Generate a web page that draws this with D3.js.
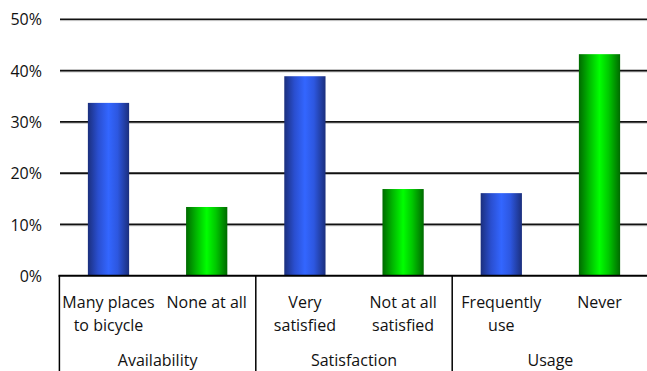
<!DOCTYPE html>
<html>
<head>
<meta charset="utf-8">
<script src="https://cdn.jsdelivr.net/npm/d3@7"></script>
<style>
  html, body { margin: 0; padding: 0; background: #fff; }
  svg { display: block; }
  text { font-family: "Open Sans", "Liberation Sans", sans-serif; fill: #111; }
</style>
</head>
<body>
<svg id="chart" width="647" height="371"></svg>
<script>
// Survey shares (percent of respondents)
const categories = [
  ["Many places", "to bicycle"],
  ["None at all"],
  ["Very", "satisfied"],
  ["Not at all", "satisfied"],
  ["Frequently", "use"],
  ["Never"]
];
const values = [33.7, 13.4, 38.9, 16.9, 16.1, 43.2];
const series = ["pos", "neg", "pos", "neg", "pos", "neg"];
const groups = ["Availability", "Satisfaction", "Usage"];
const groupSize = [2, 2, 2];
const yTicks = [0, 10, 20, 30, 40, 50];

const svg = d3.select("#chart");
const plotLeft = 59.4, plotRight = 648.6, plotTop = 19.3, plotBase = 275.7;
const fontSize = 16;

const x = d3.scaleBand()
  .domain(d3.range(categories.length))
  .range([plotLeft, plotRight])
  .paddingInner(0.58)
  .paddingOuter(0.29);

const y = d3.scaleLinear().domain([0, 50]).range([plotBase, plotTop]);

// Horizontal gradients giving the bars a cylindrical look
const defs = svg.append("defs");
const grads = {
  pos: ["#1b2f7d", "#2a4fd0", "#3366ff", "#2d57e0", "#1b2f7d"],
  neg: ["#006a00", "#00b800", "#00ff00", "#00c800", "#006a00"]
};
Object.entries(grads).forEach(([k, stops]) => {
  const g = defs.append("linearGradient").attr("id", "g-" + k)
    .attr("x1", "0%").attr("x2", "100%").attr("y1", "0%").attr("y2", "0%");
  const offs = [0, 0.25, 0.5, 0.72, 1];
  stops.forEach((c, i) => g.append("stop").attr("offset", offs[i]).attr("stop-color", c));
});

// Gridlines with a soft shadow line below
const grid = svg.append("g");
yTicks.filter(t => t > 0).forEach(t => {
  grid.append("line")
    .attr("x1", plotLeft + 0.6).attr("x2", 647)
    .attr("y1", y(t) + 1.3).attr("y2", y(t) + 1.3)
    .attr("stroke", "#bbb").attr("stroke-width", 1);
  grid.append("line")
    .attr("x1", plotLeft + 0.6).attr("x2", 647)
    .attr("y1", y(t)).attr("y2", y(t))
    .attr("stroke", "#111").attr("stroke-width", 1.6);
});

// Y axis labels
const yAxis = d3.axisLeft(y).tickValues(yTicks).tickFormat(d => d + "%").tickSize(0).tickPadding(0);
const ya = svg.append("g").attr("transform", "translate(42,0)").call(yAxis);
ya.select(".domain").remove();
ya.selectAll("text").attr("font-size", fontSize).attr("dy", "0.35em")
  .style("font-family", "'Open Sans', 'Liberation Sans', sans-serif").attr("fill", "#111");

// Bars
svg.append("g").selectAll("rect")
  .data(values)
  .join("rect")
  .attr("x", (d, i) => x(i))
  .attr("width", x.bandwidth())
  .attr("y", d => y(d))
  .attr("height", d => y(0) - y(d))
  .attr("fill", (d, i) => `url(#g-${series[i]})`);

// Baseline
svg.append("line")
  .attr("x1", plotLeft - 1).attr("x2", 647)
  .attr("y1", plotBase).attr("y2", plotBase)
  .attr("stroke", "#000").attr("stroke-width", 2);

// Category labels
const step = x.step();
const catG = svg.append("g").attr("font-size", fontSize).attr("text-anchor", "middle");
categories.forEach((lines, i) => {
  const cx = x(i) + x.bandwidth() / 2;
  lines.forEach((ln, j) => {
    catG.append("text").attr("x", cx).attr("y", 308 + j * 23).text(ln);
  });
});

// Group separators and group labels
let start = 0;
const sep = svg.append("g");
groups.forEach((gname, gi) => {
  const x0 = plotLeft + start * step;
  const x1 = plotLeft + (start + groupSize[gi]) * step;
  sep.append("line")
    .attr("x1", x0).attr("x2", x0).attr("y1", plotBase).attr("y2", 371)
    .attr("stroke", "#000").attr("stroke-width", 1.5);
  svg.append("text").attr("x", (x0 + x1) / 2).attr("y", 366)
    .attr("text-anchor", "middle").attr("font-size", fontSize).text(gname);
  start += groupSize[gi];
});
</script>
</body>
</html>
